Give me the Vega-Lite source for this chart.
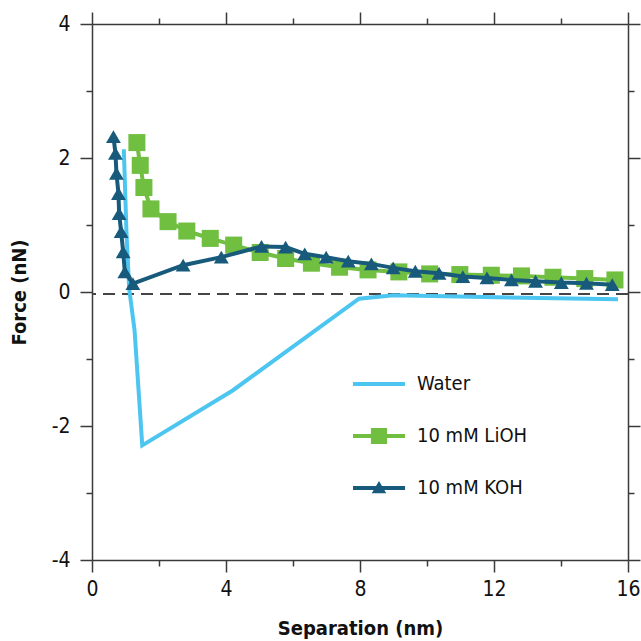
{
  "$schema": "https://vega.github.io/schema/vega-lite/v6.json",
  "width": 536,
  "height": 536,
  "autosize": "none",
  "padding": {"left": 92, "top": 24, "right": 13, "bottom": 81},
  "background": "white",
  "config": {
    "view": {"stroke": null},
    "font": "DejaVu Sans Condensed, Roboto, sans-serif",
    "axis": {
      "domainColor": "#3a3a3a",
      "domainWidth": 1.5,
      "tickColor": "#3a3a3a",
      "tickWidth": 1.5,
      "grid": false,
      "labelFont": "DejaVu Sans Condensed, Roboto, sans-serif",
      "labelFontSize": 21,
      "labelColor": "#111",
      "titleFont": "DejaVu Sans Condensed, Roboto, sans-serif",
      "titleFontSize": 20,
      "titleFontWeight": "bold",
      "titleColor": "#111"
    }
  },
  "datasets": {
    "curves": [
      {"series": "Water", "x": 0.95, "y": 2.13},
      {"series": "Water", "x": 1.03, "y": 0.87},
      {"series": "Water", "x": 1.11, "y": 0.05},
      {"series": "Water", "x": 1.27, "y": -0.57},
      {"series": "Water", "x": 1.5, "y": -2.29},
      {"series": "Water", "x": 4.2, "y": -1.47},
      {"series": "Water", "x": 7.97, "y": -0.1},
      {"series": "Water", "x": 9.0, "y": -0.05},
      {"series": "Water", "x": 15.7, "y": -0.11},
      {"series": "10 mM LiOH", "x": 1.34, "y": 2.23},
      {"series": "10 mM LiOH", "x": 1.44, "y": 1.89},
      {"series": "10 mM LiOH", "x": 1.55, "y": 1.56},
      {"series": "10 mM LiOH", "x": 1.76, "y": 1.24},
      {"series": "10 mM LiOH", "x": 2.27, "y": 1.05},
      {"series": "10 mM LiOH", "x": 2.83, "y": 0.91},
      {"series": "10 mM LiOH", "x": 3.53, "y": 0.8},
      {"series": "10 mM LiOH", "x": 4.23, "y": 0.7},
      {"series": "10 mM LiOH", "x": 5.02, "y": 0.59},
      {"series": "10 mM LiOH", "x": 5.78, "y": 0.5},
      {"series": "10 mM LiOH", "x": 6.55, "y": 0.43},
      {"series": "10 mM LiOH", "x": 7.39, "y": 0.37},
      {"series": "10 mM LiOH", "x": 8.24, "y": 0.33},
      {"series": "10 mM LiOH", "x": 9.16, "y": 0.3},
      {"series": "10 mM LiOH", "x": 10.08, "y": 0.27},
      {"series": "10 mM LiOH", "x": 10.98, "y": 0.26},
      {"series": "10 mM LiOH", "x": 11.92, "y": 0.25},
      {"series": "10 mM LiOH", "x": 12.82, "y": 0.24},
      {"series": "10 mM LiOH", "x": 13.76, "y": 0.22},
      {"series": "10 mM LiOH", "x": 14.71, "y": 0.2},
      {"series": "10 mM LiOH", "x": 15.61, "y": 0.18},
      {"series": "10 mM KOH", "x": 0.64, "y": 2.32},
      {"series": "10 mM KOH", "x": 0.7, "y": 2.07},
      {"series": "10 mM KOH", "x": 0.73, "y": 1.77},
      {"series": "10 mM KOH", "x": 0.79, "y": 1.47},
      {"series": "10 mM KOH", "x": 0.81, "y": 1.17},
      {"series": "10 mM KOH", "x": 0.87, "y": 0.9},
      {"series": "10 mM KOH", "x": 0.93, "y": 0.6},
      {"series": "10 mM KOH", "x": 0.98, "y": 0.3},
      {"series": "10 mM KOH", "x": 1.22, "y": 0.125},
      {"series": "10 mM KOH", "x": 2.72, "y": 0.4},
      {"series": "10 mM KOH", "x": 3.86, "y": 0.52},
      {"series": "10 mM KOH", "x": 5.06, "y": 0.68},
      {"series": "10 mM KOH", "x": 5.78, "y": 0.67},
      {"series": "10 mM KOH", "x": 6.35, "y": 0.57},
      {"series": "10 mM KOH", "x": 6.99, "y": 0.52},
      {"series": "10 mM KOH", "x": 7.65, "y": 0.46},
      {"series": "10 mM KOH", "x": 8.34, "y": 0.42},
      {"series": "10 mM KOH", "x": 8.99, "y": 0.36},
      {"series": "10 mM KOH", "x": 9.65, "y": 0.31},
      {"series": "10 mM KOH", "x": 10.36, "y": 0.28},
      {"series": "10 mM KOH", "x": 11.07, "y": 0.23},
      {"series": "10 mM KOH", "x": 11.79, "y": 0.21},
      {"series": "10 mM KOH", "x": 12.52, "y": 0.18},
      {"series": "10 mM KOH", "x": 13.24, "y": 0.16},
      {"series": "10 mM KOH", "x": 14.01, "y": 0.14},
      {"series": "10 mM KOH", "x": 14.76, "y": 0.13},
      {"series": "10 mM KOH", "x": 15.53, "y": 0.11}
    ]
  },
  "data": {"name": "curves"},
  "layer": [
    {
      "mark": {"type": "rule", "strokeDash": [12, 7], "strokeWidth": 1.5, "color": "#444"},
      "encoding": {
        "y": {"datum": -0.03, "type": "quantitative", "scale": {"domain": [-4, 4], "nice": false, "zero": false}, "axis": null}
      }
    },
    {
      "transform": [{"filter": "datum.series === 'Water'"}],
      "mark": {"type": "line", "strokeWidth": 4, "color": "#4cc6f0"},
      "encoding": {
        "x": {
          "field": "x", "type": "quantitative",
          "scale": {"domain": [0, 16], "nice": false, "zero": false},
          "axis": {
            "orient": "bottom", "title": "Separation (nm)",
            "values": [0, 2, 4, 6, 8, 10, 12, 14, 16],
            "labelExpr": "datum.value % 4 === 0 ? datum.label : ''",
            "tickSize": {"condition": {"test": "datum.value % 4 === 0", "value": 12}, "value": 6},
            "labelPadding": 6, "titlePadding": 19, "labelFlush": false
          }
        },
        "y": {
          "field": "y", "type": "quantitative",
          "scale": {"domain": [-4, 4], "nice": false, "zero": false},
          "axis": {
            "orient": "left", "title": "Force (nN)",
            "values": [-4, -3, -2, -1, 0, 1, 2, 3, 4],
            "labelExpr": "datum.value % 2 === 0 ? replace(datum.label, '\u2212', '-') : ''",
            "tickSize": {"condition": {"test": "datum.value % 2 === 0", "value": 12}, "value": 6},
            "labelPadding": 10, "titlePadding": 22, "labelFlush": false
          }
        }
      }
    },
    {
      "transform": [{"filter": "datum.series === '10 mM LiOH'"}],
      "mark": {"type": "line", "strokeWidth": 4, "color": "#70bf41"},
      "encoding": {
        "x": {
          "field": "x", "type": "quantitative",
          "axis": {
            "orient": "top", "title": null, "labels": false,
            "values": [0, 2, 4, 6, 8, 10, 12, 14, 16],
            "tickSize": {"condition": {"test": "datum.value % 4 === 0", "value": 12}, "value": 6}
          }
        },
        "y": {
          "field": "y", "type": "quantitative",
          "axis": {
            "orient": "right", "title": null, "labels": false,
            "values": [-4, -3, -2, -1, 0, 1, 2, 3, 4],
            "tickSize": {"condition": {"test": "datum.value % 2 === 0", "value": 12}, "value": 6}
          }
        }
      }
    },
    {
      "transform": [{"filter": "datum.series === '10 mM LiOH'"}],
      "mark": {"type": "point", "shape": "square", "filled": true, "size": 290, "opacity": 1, "color": "#70bf41"},
      "encoding": {
        "x": {"field": "x", "type": "quantitative", "axis": null},
        "y": {"field": "y", "type": "quantitative", "axis": null}
      }
    },
    {
      "transform": [{"filter": "datum.series === '10 mM KOH'"}],
      "mark": {"type": "line", "strokeWidth": 4, "color": "#185a7b"},
      "encoding": {
        "x": {"field": "x", "type": "quantitative", "axis": null},
        "y": {"field": "y", "type": "quantitative", "axis": null}
      }
    },
    {
      "transform": [{"filter": "datum.series === '10 mM KOH'"}],
      "mark": {"type": "point", "shape": "triangle-up", "filled": true, "size": 220, "opacity": 1, "color": "#185a7b"},
      "encoding": {
        "x": {"field": "x", "type": "quantitative", "axis": null},
        "y": {"field": "y", "type": "quantitative", "axis": null}
      }
    },
    {
      "transform": [{"filter": "datum.x > 100"}],
      "mark": {"type": "point", "filled": true, "opacity": 1},
      "encoding": {
        "x": {"field": "x", "type": "quantitative", "axis": null},
        "y": {"field": "y", "type": "quantitative", "axis": null},
        "color": {
          "field": "series", "type": "nominal",
          "scale": {"domain": ["Water", "10 mM LiOH", "10 mM KOH"], "range": ["#4cc6f0", "#70bf41", "#185a7b"]},
          "legend": {
            "orient": "none", "legendX": 261, "legendY": 334, "title": null,
            "symbolSize": 2704, "symbolOpacity": 1, "symbolStrokeWidth": 0,
            "labelFont": "DejaVu Sans Condensed, Roboto, sans-serif", "labelFontSize": 20, "labelColor": "#111",
            "labelOffset": 12, "rowPadding": 16
          }
        },
        "shape": {
          "field": "series", "type": "nominal",
          "scale": {
            "domain": ["Water", "10 mM LiOH", "10 mM KOH"],
            "range": [
              "M-1,-0.077H1V0.077H-1Z",
              "M-1,-0.077H1V0.077H-1Z M-0.31,-0.31H0.31V0.31H-0.31Z",
              "M-1,-0.077H1V0.077H-1Z M0,-0.27L0.28,0.2L-0.28,0.2Z"
            ]
          }
        }
      }
    }
  ],
  "resolve": {"axis": {"x": "independent", "y": "independent"}}
}
